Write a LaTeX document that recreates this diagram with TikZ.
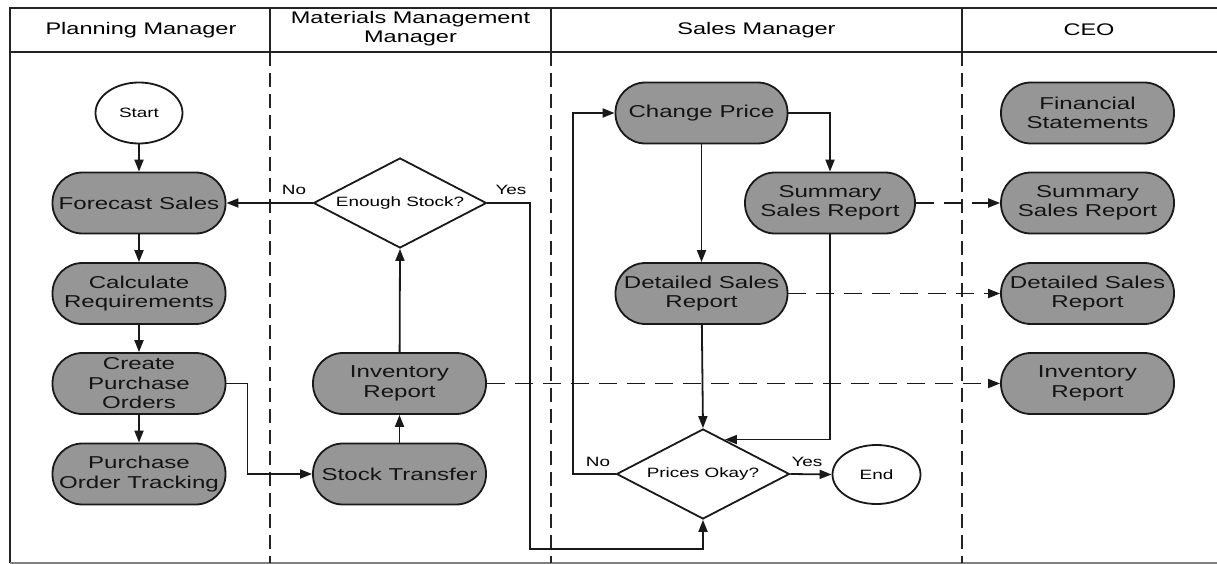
\documentclass[tikz,border=0pt]{standalone}
\usepackage{fontspec}
\setmainfont[FakeStretch=1.4]{Liberation Sans}
\usetikzlibrary{shapes.geometric,arrows.meta,calc}
\definecolor{nodefill}{RGB}{150,150,150}
\definecolor{linecol}{RGB}{25,25,25}
\definecolor{framecol}{RGB}{35,35,35}
\newcommand\ndfont{\fontsize{17.2}{19.5}\selectfont}
\newcommand\smfont{\fontsize{13.5}{16}\selectfont}
\newcommand\hdfont{\fontsize{16.8}{19}\selectfont}
\tikzset{
  proc/.style={rectangle, rounded corners=30pt, draw=linecol, line width=1.8pt, fill=nodefill,
    minimum width=173pt, minimum height=61pt, inner sep=0pt, align=center, font=\ndfont, text=black!92},
  termin/.style={ellipse, draw=linecol, line width=1.8pt, fill=white, minimum width=87pt,
    minimum height=61pt, inner sep=0pt, font=\smfont},
  decis/.style={diamond, aspect=1.92, draw=linecol, line width=1.8pt, fill=white,
    minimum width=173pt, minimum height=90pt, inner sep=0pt, font=\smfont},
  conn/.style={line width=1.8pt, draw=linecol, -{Triangle[length=12pt,width=9pt]}},
  dconn/.style={conn, dash pattern=on 18pt off 10pt},
  lbl/.style={font=\smfont, inner sep=0pt},
  hdr/.style={font=\hdfont, align=center, inner sep=0pt},
  frame/.style={line width=2pt, draw=framecol},
  lanediv/.style={line width=2pt, draw=framecol, dash pattern=on 14pt off 7pt}
}
\begin{document}
\begin{tikzpicture}[x=1pt,y=-1pt]
\useasboundingbox[fill=white] (0,0) rectangle (1217,564);
% frame and header
\draw[frame] (1217,8) -- (10,8) -- (10,563);
\draw[frame, draw=gray] (10,563) -- (1217,563);
\draw[frame] (10,52) -- (1217,52);
\foreach \xx in {270,551,962}{
  \draw[frame] (\xx,8) -- (\xx,52);
  \draw[lanediv] (\xx,52) -- (\xx,563);
}
\node[hdr] (h1) at (141,30) {Planning Manager};
\node[hdr] (h2) at (410.5,29) {Materials Management\\Manager};
\node[hdr] (h3) at (756.5,30) {Sales Manager};
\node[hdr] (h4) at (1089,30) {CEO};

% Planning manager lane
\node[termin] (start) at (139,113) {Start};
\node[proc] (fore) at (139,203) {Forecast Sales};
\node[proc] (calc) at (139,293.5) {Calculate\\Requirements};
\node[proc] (cpo) at (139,383.5) {Create\\Purchase\\Orders};
\node[proc] (pot) at (139,474) {Purchase\\Order Tracking};

% Materials management lane
\node[decis] (enough) at (400,203) {Enough Stock?};
\node[proc] (inv) at (399.5,383.5) {Inventory\\Report};
\node[proc] (stock) at (399.5,474) {Stock Transfer};

% Sales manager lane
\node[proc, minimum width=172pt] (chg) at (701.5,113) {Change Price};
\node[proc, minimum width=170pt] (sum) at (830,203) {Summary\\Sales Report};
\node[proc, minimum width=172pt] (det) at (701.5,293.5) {Detailed Sales\\Report};
\node[decis] (prices) at (703,474) {Prices Okay?};
\node[termin, minimum width=88pt, minimum height=59pt] (endn) at (876.5,474.5) {End};

% CEO lane
\node[proc] (fin) at (1087.5,113) {Financial\\Statements};
\node[proc] (csum) at (1087.5,203) {Summary\\Sales Report};
\node[proc] (cdet) at (1087.5,293.5) {Detailed Sales\\Report};
\node[proc] (cinv) at (1087.5,383.5) {Inventory\\Report};

% connectors
\draw[conn] (start) -- (fore);
\draw[conn] (fore) -- (calc);
\draw[conn] (calc) -- (cpo);
\draw[conn] (cpo) -- (pot);
\draw[conn] (enough.west) -- (fore.east);
\node[lbl] (lno1) at (294,190) {No};
\draw[conn] (enough.east) -- (530,203) -- (530,549) -| (prices.south);
\node[lbl] (lyes1) at (511,190) {Yes};
\draw[conn] (cpo.east) -- (247.5,383.5) |- (stock.west);
\draw[conn] (stock) -- (inv);
\draw[conn] (inv) -- (enough.south);
\draw[dconn] (inv.east) -- (cinv.west);

\draw[conn] (chg.east) -| (sum.north);
\draw[conn] (chg) -- (det);
\draw[conn] (det) -- (prices.north);
\coordinate (pedge) at ($(prices.north)!0.25!(prices.east)$);
\draw[conn] (sum.south) |- (pedge);
\draw[conn] (prices.west) -- (573,474) |- (chg.west);
\node[lbl] (lno2) at (598,462) {No};
\draw[conn] (prices.east) -- (endn.west);
\node[lbl] (lyes2) at (807,462) {Yes};
\draw[dconn] (sum.east) -- (csum.west);
\draw[dconn] (det.east) -- (cdet.west);
\end{tikzpicture}
\end{document}
